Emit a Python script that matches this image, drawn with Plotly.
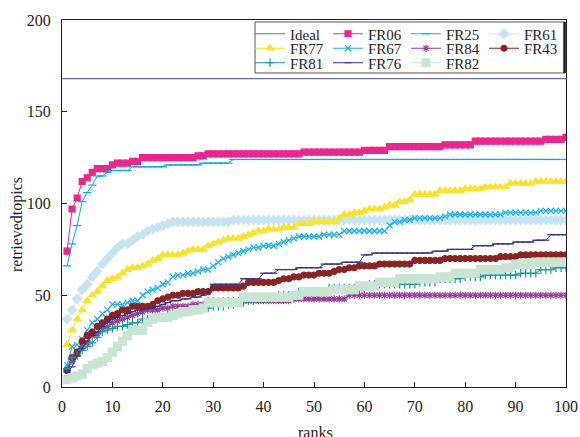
import plotly.graph_objects as go

ranks = list(range(1, 101))
ideal_ranks = list(range(0, 101))
ideal = [168] * 101

fr06 = [74, 97, 103, 112, 114, 117, 119, 119, 119, 121,
        122, 122, 122, 123, 123, 125, 125, 125, 125, 125,
        125, 125, 125, 125, 125, 125, 126, 126, 127, 127,
        127, 127, 127, 127, 127, 127, 127, 127, 127, 127,
        127, 127, 127, 127, 127, 127, 127, 128, 128, 128,
        128, 128, 128, 128, 128, 128, 128, 128, 128, 129,
        129, 129, 129, 129, 131, 131, 131, 131, 131, 131,
        131, 131, 131, 131, 131, 132, 132, 132, 132, 132,
        132, 134, 134, 134, 134, 134, 134, 134, 134, 134,
        134, 134, 134, 134, 134, 135, 135, 135, 135, 136]

fr25 = [66, 78, 88, 101, 106, 110, 115, 115, 117, 118,
        118, 118, 118, 120, 120, 120, 120, 120, 120, 120,
        121, 121, 121, 121, 121, 121, 121, 122, 122, 122,
        122, 122, 122, 124, 124, 124, 124, 124, 124, 124,
        124, 124, 124, 124, 124, 124, 124, 124, 124, 124,
        124, 124, 124, 124, 124, 124, 124, 124, 124, 124,
        124, 124, 124, 124, 124, 124, 124, 124, 124, 124,
        124, 124, 124, 124, 124, 124, 124, 124, 124, 124,
        124, 124, 124, 124, 124, 124, 124, 124, 124, 124,
        124, 124, 124, 124, 124, 124, 124, 124, 124, 124]

fr61 = [37, 42, 48, 53, 56, 60, 63, 67, 70, 73,
        76, 78, 78, 80, 82, 83, 85, 86, 87, 88,
        89, 90, 90, 90, 90, 90, 90, 90, 90, 90,
        90, 90, 90, 91, 91, 91, 91, 91, 91, 91,
        91, 91, 91, 91, 91, 91, 91, 91, 91, 91,
        91, 91, 91, 91, 91, 91, 91, 91, 91, 91,
        91, 91, 91, 91, 91, 91, 91, 91, 91, 91,
        91, 91, 91, 91, 91, 91, 91, 91, 91, 91,
        91, 91, 91, 91, 91, 91, 91, 91, 91, 91,
        91, 91, 91, 91, 91, 91, 91, 91, 91, 91]

fr77 = [23, 31, 37, 42, 47, 50, 52, 55, 58, 59,
        60, 62, 64, 65, 65, 66, 67, 69, 70, 72,
        72, 72, 72, 73, 74, 75, 75, 75, 77, 78,
        79, 80, 81, 81, 81, 82, 83, 84, 85, 85,
        86, 86, 86, 87, 87, 87, 89, 89, 89, 90,
        90, 90, 90, 90, 92, 94, 94, 95, 95, 96,
        97, 97, 97, 98, 99, 99, 101, 101, 102, 105,
        105, 105, 105, 105, 107, 107, 107, 107, 107, 108,
        108, 108, 108, 109, 109, 109, 109, 109, 111, 111,
        111, 111, 111, 112, 112, 112, 112, 112, 112, 112]

fr67 = [12, 22, 23, 26, 31, 35, 37, 40, 42, 45,
        45, 45, 46, 47, 47, 50, 52, 53, 54, 56,
        57, 60, 61, 61, 62, 62, 63, 64, 64, 66,
        68, 70, 71, 72, 73, 74, 75, 76, 76, 77,
        77, 77, 78, 79, 80, 81, 82, 82, 82, 82,
        82, 83, 83, 83, 83, 85, 85, 85, 85, 85,
        85, 85, 85, 85, 88, 90, 90, 91, 91, 92,
        92, 92, 92, 92, 92, 93, 94, 94, 94, 94,
        94, 94, 94, 94, 94, 94, 94, 95, 95, 95,
        95, 95, 95, 95, 96, 96, 96, 96, 96, 96]

fr84 = [9, 14, 18, 22, 24, 28, 29, 32, 33, 35,
        36, 37, 38, 39, 40, 41, 42, 42, 42, 43,
        43, 44, 44, 44, 44, 45, 45, 45, 47, 47,
        47, 47, 47, 47, 47, 47, 47, 47, 47, 47,
        47, 47, 47, 47, 47, 48, 48, 48, 48, 48,
        48, 48, 48, 48, 48, 48, 50, 50, 50, 50,
        50, 50, 50, 50, 50, 50, 50, 50, 50, 50,
        50, 50, 50, 50, 50, 50, 50, 50, 50, 50,
        50, 50, 50, 50, 50, 50, 50, 50, 50, 50,
        50, 50, 50, 50, 50, 50, 50, 50, 50, 50]

fr43 = [9, 16, 19, 25, 28, 30, 33, 35, 37, 39,
        40, 42, 42, 44, 44, 44, 44, 45, 47, 48,
        49, 50, 50, 51, 51, 51, 52, 52, 52, 54,
        54, 54, 54, 54, 54, 55, 57, 57, 57, 57,
        57, 57, 58, 59, 59, 60, 60, 61, 61, 61,
        62, 62, 62, 63, 64, 64, 65, 65, 66, 66,
        66, 66, 67, 67, 67, 67, 67, 67, 67, 69,
        69, 69, 69, 69, 69, 70, 70, 70, 70, 70,
        70, 70, 70, 70, 70, 70, 71, 71, 71, 71,
        72, 72, 72, 72, 72, 72, 72, 72, 72, 72]

fr81 = [10, 16, 17, 20, 22, 24, 27, 30, 31, 32,
        33, 33, 34, 35, 35, 37, 37, 37, 38, 38,
        39, 40, 40, 41, 41, 42, 42, 43, 43, 44,
        44, 44, 45, 45, 46, 46, 47, 47, 48, 48,
        48, 48, 50, 50, 50, 50, 52, 52, 52, 52,
        52, 52, 54, 54, 54, 54, 54, 54, 54, 54,
        56, 56, 56, 56, 56, 56, 56, 56, 56, 56,
        57, 57, 57, 57, 59, 59, 59, 59, 59, 60,
        60, 60, 60, 61, 61, 61, 61, 61, 61, 61,
        62, 62, 62, 62, 64, 64, 64, 65, 65, 65]

fr76 = [8, 11, 17, 21, 25, 28, 30, 33, 35, 37,
        38, 39, 40, 41, 42, 42, 43, 43, 44, 45,
        46, 47, 47, 48, 48, 49, 49, 50, 52, 56,
        56, 56, 56, 56, 56, 59, 59, 59, 59, 62,
        62, 62, 64, 64, 64, 64, 65, 65, 65, 65,
        65, 67, 67, 67, 67, 68, 68, 68, 68, 72,
        72, 73, 73, 73, 73, 73, 73, 73, 73, 73,
        73, 73, 73, 74, 74, 74, 75, 75, 75, 75,
        75, 77, 77, 77, 77, 78, 78, 78, 78, 79,
        79, 79, 79, 80, 80, 80, 83, 83, 83, 83]

fr82 = [4, 5, 6, 7, 10, 12, 13, 14, 16, 19,
        22, 25, 28, 31, 31, 31, 35, 37, 38, 38,
        38, 39, 40, 41, 41, 42, 42, 43, 46, 46,
        46, 46, 46, 46, 46, 49, 49, 49, 49, 49,
        49, 49, 49, 49, 49, 50, 50, 52, 52, 52,
        52, 52, 52, 53, 53, 53, 53, 53, 55, 55,
        55, 55, 57, 57, 57, 57, 59, 59, 59, 59,
        59, 59, 59, 59, 60, 60, 60, 62, 62, 62,
        62, 62, 64, 64, 64, 64, 64, 65, 65, 67,
        67, 67, 67, 68, 68, 68, 68, 68, 68, 68]

series = [
    # name, x, y, color, symbol, size, legend
    ("Ideal", ideal_ranks, ideal, "#6a6cb0", None, 0, "legend"),
    ("FR06", ranks, fr06, "#ec268f", "square", 6, "legend"),
    ("FR25", ranks, fr25, "#00aeef", "line-ew-open", 6, "legend"),
    ("FR61", ranks, fr61, "#c6e4f2", "diamond", 7, "legend"),
    ("FR77", ranks, fr77, "#fbe32a", "triangle-up", 7, "legend2"),
    ("FR67", ranks, fr67, "#1cb3ea", "x-thin-open", 6, "legend2"),
    ("FR84", ranks, fr84, "#9a3c98", "asterisk-open", 6, "legend2"),
    ("FR43", ranks, fr43, "#8c2323", "circle", 6, "legend2"),
    ("FR81", ranks, fr81, "#129a9c", "cross-thin-open", 6, "legend3"),
    ("FR76", ranks, fr76, "#2e3192", "line-ew-open", 5, "legend3"),
    ("FR82", ranks, fr82, "#c8e5d2", "square", 8, "legend3"),
]

fig = go.Figure()
for name, xs, ys, color, sym, size, lg in series:
    if sym is None:
        fig.add_trace(go.Scatter(x=xs, y=ys, name=name, mode="lines",
                                 line=dict(color=color, width=1.2), legend=lg))
    else:
        fig.add_trace(go.Scatter(x=xs, y=ys, name=name, mode="lines+markers",
                                 line=dict(color=color, width=1),
                                 marker=dict(symbol=sym, size=size, color=color,
                                             line=dict(color=color, width=1.2)),
                                 legend=lg))

FONT = "Liberation Serif"
axis_col = "#231f20"

L, R, T, B = 62, 14, 20, 50
W, H = 580, 437
pw = W - L - R
ph = H - T - B

def px_x(p):
    return (p - L) / pw

def px_y(p):
    return (H - B - p) / ph

legend_common = dict(orientation="h", font=dict(family=FONT, size=15, color=axis_col),
                     bgcolor="rgba(0,0,0,0)", borderwidth=0, entrywidth=33,
                     itemwidth=30, xanchor="left", yanchor="middle", tracegroupgap=0)

fig.update_layout(
    width=W, height=H,
    margin=dict(l=L, r=R, t=T, b=B, autoexpand=False),
    paper_bgcolor="white", plot_bgcolor="white",
    font=dict(family=FONT, size=16, color=axis_col),
    showlegend=True,
    legend=dict(x=px_x(250), y=px_y(34), **legend_common),
    legend2=dict(x=px_x(250), y=px_y(48.5), **legend_common),
    legend3=dict(x=px_x(250), y=px_y(63), **legend_common),
    xaxis=dict(range=[0, 100], dtick=10, tick0=0, showgrid=False, zeroline=False,
               showline=True, linecolor=axis_col, linewidth=1.2, mirror=True,
               ticks="inside", ticklen=5, tickwidth=1, tickcolor=axis_col,
               tickfont=dict(family=FONT, size=16, color=axis_col),
               ticklabelstandoff=5),
    yaxis=dict(range=[0, 200], dtick=50, tick0=0, showgrid=False, zeroline=False,
               showline=True, linecolor=axis_col, linewidth=1.2, mirror=True,
               ticks="inside", ticklen=5, tickwidth=1, tickcolor=axis_col,
               tickfont=dict(family=FONT, size=16, color=axis_col),
               ticklabelstandoff=7),
    shapes=[
        dict(type="rect", xref="paper", yref="paper",
             x0=px_x(255), x1=px_x(565), y0=px_y(73), y1=px_y(22),
             line=dict(color="#555555", width=1), fillcolor="white", layer="below"),
        dict(type="line", xref="paper", yref="paper",
             x0=px_x(564.5), x1=px_x(564.5), y0=px_y(73), y1=px_y(22),
             line=dict(color="#222222", width=2.5)),
    ],
    annotations=[
        dict(text="retrievedtopics", xref="paper", yref="paper",
             x=px_x(17), y=px_y(225), textangle=-90, showarrow=False,
             xanchor="center", yanchor="middle",
             font=dict(family=FONT, size=16, color=axis_col)),
        dict(text="ranks", xref="paper", yref="paper",
             x=px_x(315), y=px_y(432), showarrow=False,
             xanchor="center", yanchor="middle",
             font=dict(family=FONT, size=16, color=axis_col)),
    ],
)

fig.write_html("out.html")
